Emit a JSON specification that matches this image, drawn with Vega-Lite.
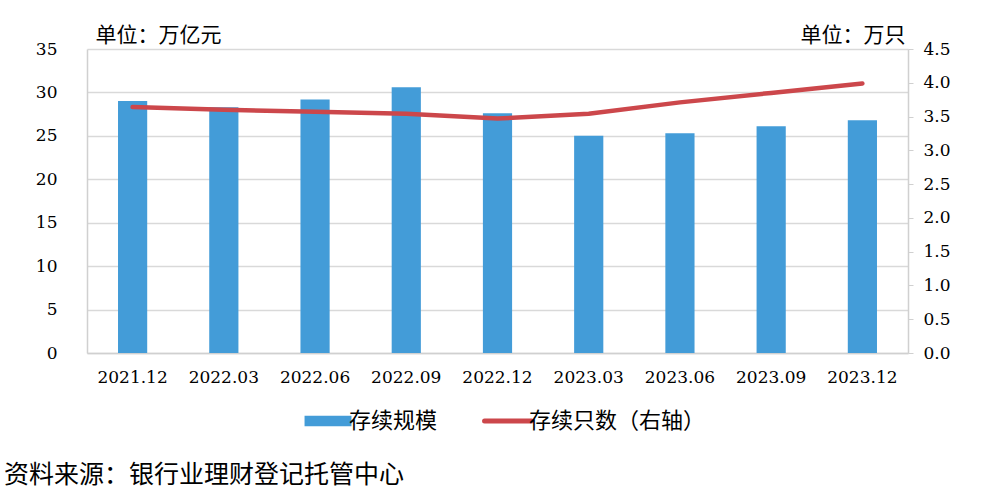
{
  "$schema": "https://vega.github.io/schema/vega-lite/v6.json",
  "width": 821,
  "height": 304,
  "autosize": {"type": "none"},
  "padding": {"left": 87, "top": 49, "right": 98, "bottom": 139},
  "background": "white",
  "title": {
    "text": "资料来源：银行业理财登记托管中心",
    "orient": "bottom",
    "anchor": "start",
    "frame": "group",
    "offset": 43,
    "baseline": "middle",
    "dx": -83,
    "font": "Noto Sans CJK SC",
    "fontSize": 25,
    "fontWeight": "normal",
    "color": "#000000"
  },
  "data": {
    "values": [
      {"date": "2021.12", "scale": 29.0, "count": 3.64},
      {"date": "2022.03", "scale": 28.3, "count": 3.60},
      {"date": "2022.06", "scale": 29.2, "count": 3.57},
      {"date": "2022.09", "scale": 30.6, "count": 3.54},
      {"date": "2022.12", "scale": 27.6, "count": 3.47},
      {"date": "2023.03", "scale": 25.0, "count": 3.54},
      {"date": "2023.06", "scale": 25.3, "count": 3.71},
      {"date": "2023.09", "scale": 26.1, "count": 3.85},
      {"date": "2023.12", "scale": 26.8, "count": 3.99}
    ]
  },
  "encoding": {
    "x": {
      "field": "date",
      "type": "nominal",
      "sort": null,
      "scale": {"paddingInner": 0.68, "paddingOuter": 0.34},
      "axis": {
        "title": null,
        "labelAngle": 0,
        "labelFont": "DejaVu Serif",
        "labelFontSize": 17,
        "labelColor": "#000000",
        "labelPadding": 16,
        "ticks": false,
        "domainColor": "#d0d0d0",
        "domainWidth": 1.5,
        "grid": false
      }
    }
  },
  "layer": [
    {
      "mark": {"type": "bar", "color": "#439cd8"},
      "encoding": {
        "y": {
          "field": "scale",
          "type": "quantitative",
          "scale": {"domain": [0, 35], "nice": false},
          "axis": {
            "values": [0, 5, 10, 15, 20, 25, 30, 35],
            "title": "单位：万亿元",
            "titleAngle": 0,
            "titleAlign": "left",
            "titleBaseline": "middle",
            "titleX": 8,
            "titleY": -14,
            "titleFont": "Noto Sans CJK SC",
            "titleFontSize": 21,
            "titleFontWeight": "normal",
            "titleColor": "#000000",
            "labelFont": "DejaVu Serif",
            "labelFontSize": 17,
            "labelColor": "#000000",
            "labelPadding": 30,
            "ticks": false,
            "domain": true,
            "domainColor": "#d0d0d0",
            "domainWidth": 1.5,
            "grid": true,
            "gridColor": "#d9d9d9",
            "gridWidth": 1.5
          }
        },
        "color": {
          "datum": "存续规模",
          "type": "nominal",
          "scale": {"domain": ["存续规模", "存续只数（右轴）"], "range": ["#439cd8", "#cc474b"]},
          "legend": {
            "title": null,
            "orient": "none",
            "legendX": 230,
            "legendY": 361,
            "direction": "horizontal",
            "labelFont": "Noto Sans CJK SC",
            "labelFontSize": 22,
            "labelColor": "#000000",
            "labelLimit": 400,
            "symbolSize": 2200,
            "columnPadding": 36,
            "labelOffset": 10,
            "encode": {
              "symbols": {
                "update": {
                  "shape": {"signal": "datum.value === '存续规模' ? 'M-1,-0.22H1V0.22H-1Z' : 'stroke'"},
                  "fill": {"signal": "datum.value === '存续规模' ? '#439cd8' : 'transparent'"},
                  "stroke": {"signal": "datum.value === '存续规模' ? 'transparent' : '#cc474b'"},
                  "strokeWidth": {"signal": "datum.value === '存续规模' ? 0 : 5"},
                  "strokeCap": {"value": "round"},
                  "opacity": {"value": 1}
                }
              }
            }
          }
        }
      }
    },
    {
      "mark": {"type": "line", "strokeWidth": 4.5, "strokeCap": "round", "color": "#cc474b"},
      "encoding": {
        "y": {
          "field": "count",
          "type": "quantitative",
          "scale": {"domain": [0, 4.5], "nice": false},
          "axis": {
            "orient": "right",
            "values": [0, 0.5, 1, 1.5, 2, 2.5, 3, 3.5, 4, 4.5],
            "format": ".1f",
            "title": "单位：万只",
            "titleAngle": 0,
            "titleAlign": "right",
            "titleBaseline": "middle",
            "titleX": -3,
            "titleY": -14,
            "titleFont": "Noto Sans CJK SC",
            "titleFontSize": 21,
            "titleFontWeight": "normal",
            "titleColor": "#000000",
            "labelFont": "DejaVu Serif",
            "labelFontSize": 17,
            "labelColor": "#000000",
            "labelPadding": 10,
            "ticks": true,
            "tickSize": 5,
            "tickColor": "#d0d0d0",
            "domain": true,
            "domainColor": "#d0d0d0",
            "domainWidth": 1.5,
            "grid": false
          }
        },
        "color": {"datum": "存续只数（右轴）", "type": "nominal"}
      }
    }
  ],
  "resolve": {"scale": {"y": "independent"}},
  "config": {
    "view": {"stroke": null}
  }
}
